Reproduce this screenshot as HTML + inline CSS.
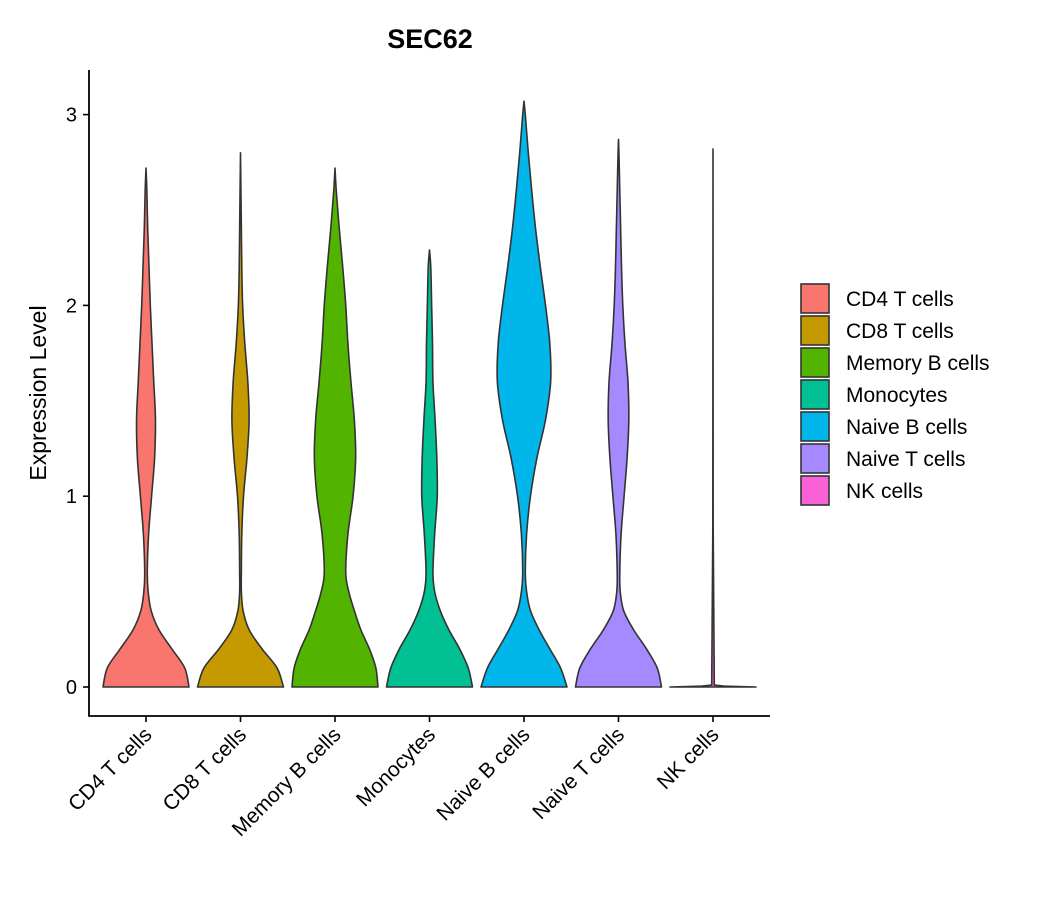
<!DOCTYPE html>
<html><head><meta charset="utf-8"><style>
body{margin:0;background:#fff}
svg{font-family:"Liberation Sans","DejaVu Sans",sans-serif}
</style></head><body>
<svg id="chart" width="1050" height="900" viewBox="0 0 1050 900">
<text x="430" y="48" font-size="27" font-weight="bold" text-anchor="middle">SEC62</text>
<text transform="translate(46,393) rotate(-90)" font-size="23" text-anchor="middle">Expression Level</text>
<g id="plot"></g>
<g id="legend"></g>
</svg>
<script>
const categories=["CD4 T cells","CD8 T cells","Memory B cells","Monocytes","Naive B cells","Naive T cells","NK cells"];
const colors=["#F8766D","#C49A00","#53B400","#00C094","#00B6EB","#A58AFF","#FB61D7"];
const levels=[0,0.1,0.2,0.3,0.4,0.5,0.6,0.8,1.0,1.2,1.4,1.6,1.8,2.0,2.2,2.4,2.6,2.8,3.0];
const maxVals=[2.72,2.8,2.72,2.29,3.07,2.87,2.82];
const dCD4=[1,.9,.6,.3,.12,.05,.03,.06,.13,.2,.22,.18,.14,.1,.07,.04,.02,0,0];
const dCD8=[1,.85,.5,.2,.06,.02,.02,.03,.07,.15,.2,.17,.1,.05,.03,.02,.01,0,0];
const dMemB=[1,.95,.8,.6,.45,.32,.25,.3,.42,.48,.45,.37,.3,.25,.18,.1,.03,0,0];
const dMono=[1,.9,.7,.45,.25,.12,.08,.12,.18,.17,.13,.08,.07,.05,.03,0,0,0,0];
const dNaiveB=[1,.85,.6,.35,.15,.06,.03,.06,.15,.3,.5,.62,.6,.5,.38,.27,.18,.1,.03];
const dNaiveT=[1,.9,.65,.35,.12,.04,.03,.06,.13,.2,.24,.22,.15,.1,.07,.05,.03,.01,0];
const dNK=[0.02,.004,.004,.004,.004,.004,.004,.004,.004,.004,.004,.004,.004,.004,.004,.004,.004,.004,0];
const densities=[dCD4,dCD8,dMemB,dMono,dNaiveB,dNaiveT,dNK];
const yTicks=[0,1,2,3];
const NS="http://www.w3.org/2000/svg";
const X0=89,X1=770,Y0=716,Ytop=70;
const y=v=>687-v*190.8;
const x=i=>146+i*94.5;
const HW=43;
const plot=document.getElementById('plot');
function mk(t,a,p){const e=document.createElementNS(NS,t);for(const k in a)e.setAttribute(k,a[k]);(p||plot).appendChild(e);return e;}
function spline(pts){let d="M"+pts[0][0]+","+pts[0][1];for(let i=0;i<pts.length-1;i++){const p0=pts[Math.max(i-1,0)],p1=pts[i],p2=pts[i+1],p3=pts[Math.min(i+2,pts.length-1)];const c1=[p1[0]+(p2[0]-p0[0])/6,p1[1]+(p2[1]-p0[1])/6],c2=[p2[0]-(p3[0]-p1[0])/6,p2[1]-(p3[1]-p1[1])/6];d+=" C"+c1[0]+","+c1[1]+" "+c2[0]+","+c2[1]+" "+p2[0]+","+p2[1];}return d;}
categories.forEach((c,i)=>{
  const cx=x(i),dens=densities[i],mx=maxVals[i];
  let d;
  if(i===6){
    const pts=[[0,1],[0.004,0.3],[0.01,0.03],[mx*0.3,0.004],[mx,0]];
    const r=pts.map(p=>[cx+p[1]*HW,y(p[0])]);
    const l=pts.slice().reverse().map(p=>[cx-p[1]*HW,y(p[0])]);
    d="M"+r.concat(l).map(p=>p[0]+","+p[1]).join(" L")+" Z";
  } else {
    const pts=[];
    for(let k=0;k<levels.length;k++){if(levels[k]>=mx)break;pts.push([levels[k],dens[k]]);}
    pts.push([mx,0]);
    const right=pts.map(p=>[cx+p[1]*HW,y(p[0])]);
    const left=pts.slice().reverse().map(p=>[cx-p[1]*HW,y(p[0])]);
    d=spline(right)+" L"+left[0][0]+","+left[0][1]+spline(left).replace(/^M[^ ]+/,"")+" Z";
  }
  const el=mk('path',{d:d,fill:colors[i],stroke:"#333",'stroke-width':1.6,'stroke-linejoin':'round'});
  
  
  mk('line',{x1:cx,x2:cx,y1:Y0,y2:Y0+6,stroke:"#000",'stroke-width':1.6});
  const t=mk('text',{transform:`translate(${cx+7},${Y0+20}) rotate(-45)`,'font-size':21,'text-anchor':'end',fill:'#000'});
  t.textContent=c;
  
  
});
yTicks.forEach(v=>{
  mk('line',{x1:X0-6,x2:X0,y1:y(v),y2:y(v),stroke:"#000",'stroke-width':1.6});
  const t=mk('text',{x:X0-12,y:y(v)+7,'font-size':20,'text-anchor':'end'});
  t.textContent=v;
  
  
});
const ax=mk('path',{d:`M${X0},${Ytop} V${Y0} H${X1}`,fill:'none',stroke:'#000','stroke-width':1.8});


const lg=document.getElementById('legend');
categories.forEach((c,i)=>{
  const g=mk('g',{},lg);
  
  
  mk('rect',{x:801,y:284+i*32,width:28,height:29,fill:colors[i],stroke:'#333','stroke-width':1.6},g);
  const t=mk('text',{x:846,y:306+i*32,'font-size':21},g);
  t.textContent=c;
});
</script>
</body></html>
